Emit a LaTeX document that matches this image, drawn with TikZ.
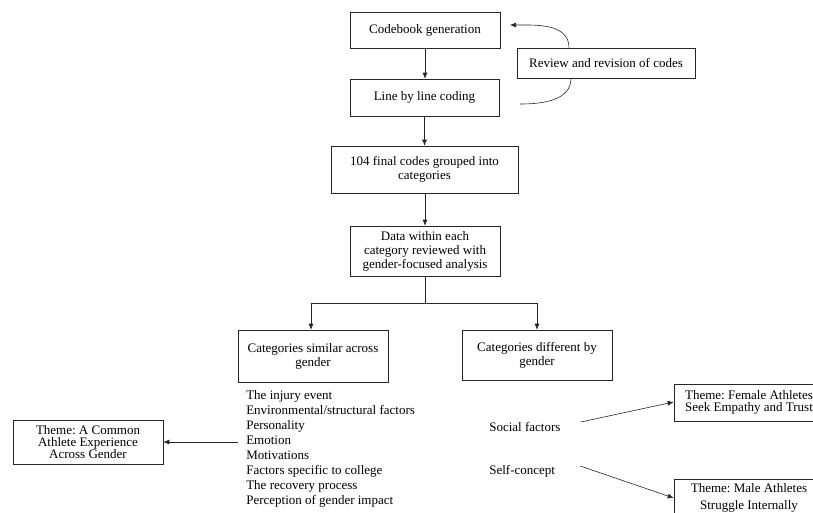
\documentclass[tikz,border=0pt]{standalone}
\usepackage{fontspec}
\setmainfont{Liberation Serif}
\usetikzlibrary{arrows.meta}
\frenchspacing

\tikzset{
  box/.style={draw, align=center, inner sep=2pt, font=\fontsize{13}{14}\selectfont},
  listtext/.style={align=left, inner sep=0pt, font=\fontsize{13}{15}\selectfont},
  arr/.style={-{Latex[length=6pt,width=5pt]}},
}

\begin{document}
\begin{tikzpicture}[x=1pt, y=-1pt, line width=0.6pt, draw=black!85]
\useasboundingbox (0,0) rectangle (813,512);

% main column
\node [box, minimum width=150pt, minimum height=36pt] (code) at (425,30) {Codebook generation};
\node [box, minimum width=149pt, minimum height=37pt] (line) at (424.5,97.5) {Line by line coding};
\node [box, minimum width=178pt, minimum height=30pt] (review) at (606,63) {Review and revision of codes};
\node [box, minimum width=187pt, minimum height=47pt] (final) at (424.5,169.5) {104 final codes grouped into\\categories};
\node [box, minimum width=150pt, minimum height=50pt] (data) at (425,251) {Data within each\\category reviewed with\\gender-focused analysis};
\node [box, minimum width=150pt, minimum height=52pt] (similar) at (313,356) {Categories similar across\\gender};
\node [box, minimum width=150pt, minimum height=50pt] (different) at (537,355) {Categories different by\\gender};

% themes
\node [box, minimum width=150pt, minimum height=44pt, font=\fontsize{13}{12}\selectfont] (common) at (88,442) {Theme: A Common\\Athlete Experience\\Across Gender};
\node [box, minimum width=150pt, minimum height=37pt, font=\fontsize{13}{12}\selectfont] (female) at (749,402.5) {Theme: Female Athletes\\Seek Empathy and Trust};
\node [box, minimum width=150pt, minimum height=38pt, font=\fontsize{13}{17}\selectfont] (male) at (749,498) {Theme: Male Athletes\\Struggle Internally};

% category lists
\node [listtext, anchor=north west] (list) at (246,390) {The injury event\\Environmental/structural factors\\Personality\\Emotion\\Motivations\\Factors specific to college\\The recovery process\\Perception of gender impact};
\node [listtext, anchor=west] (social) at (489,427) {Social factors};
\node [listtext, anchor=west] (self) at (489,471) {Self-concept};

\coordinate (top) at (510,25);
\coordinate (low) at (520,104);
\coordinate (split) at (425,303);

% connectors
\draw [arr] (code) -- (code.south |- line.north);
\draw [arr] (line.south) -- (line.south |- final.north);
\draw [arr] (final.south -| data.south) -- (data.north);
\draw (data.south) -- (split);
\draw [arr] (split) -| ([xshift=-2pt]similar.north);
\draw [arr] (split) -| (different.north);
\draw [arr] ([xshift=-37pt]review.north) to [out=90, in=0] (top);
\draw ([xshift=-35pt]review.south) to [out=-90, in=0] (low);
\draw [arr] ([xshift=-8pt]list.west |- common.east) -- (common.east);
\draw [arr] ([xshift=20pt,yshift=5pt]social.east) -- ([yshift=0.5pt]female.west);
\draw [arr] ([xshift=25pt,yshift=5pt]self.east) -- (male.west);
\end{tikzpicture}
\end{document}
